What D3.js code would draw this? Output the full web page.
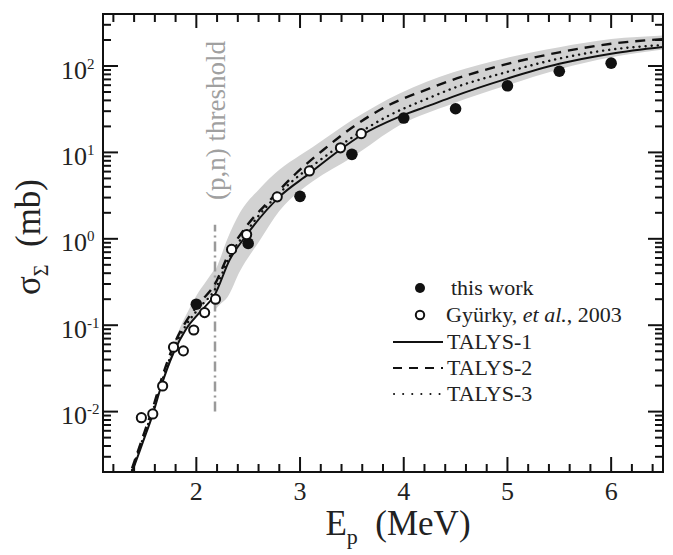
<!DOCTYPE html>
<html>
<head>
<meta charset="utf-8">
<script src="https://cdn.jsdelivr.net/npm/d3@7"></script>
<style>
  body { margin: 0; background: #fff; }
</style>
</head>
<body>
<svg id="chart" width="673" height="555"></svg>
<script>
// Measured cross sections, this work
const thisWorkE     = [2.0, 2.5, 3.0, 3.5, 4.0, 4.5, 5.0, 5.5, 6.0];
const thisWorkSigma = [0.175, 0.885, 3.1, 9.5, 25, 32, 59, 87, 108];

// Gyürky et al., 2003
const gyurkyE     = [1.47, 1.58, 1.675, 1.78, 1.875, 1.975, 2.08, 2.185, 2.34, 2.485, 2.78, 3.09, 3.39, 3.59];
const gyurkySigma = [0.0085, 0.0094, 0.0198, 0.0557, 0.0505, 0.088, 0.14, 0.2, 0.754, 1.12, 3.06, 6.1, 11.3, 16.5];

// TALYS calculations
const talys1E     = [1.38, 1.45, 1.50, 1.58, 1.66, 1.78, 1.90, 2.03, 2.18, 2.32, 2.47, 2.80, 3.09, 3.38, 3.59, 3.96, 4.25, 4.47, 4.99, 5.50, 6.00, 6.50];
const talys1Sigma = [0.002, 0.0034, 0.005, 0.0093, 0.0195, 0.048, 0.09, 0.14, 0.228, 0.567, 1.05, 3.06, 5.7, 10.6, 15.8, 26, 35, 44, 71, 106, 139, 166];

const talys2E     = [1.38, 1.50, 1.58, 1.66, 1.78, 1.90, 2.03, 2.18, 2.32, 2.48, 2.71, 2.96, 3.22, 3.51, 3.83, 4.25, 4.47, 4.99, 5.50, 6.00, 6.50];
const talys2Sigma = [0.0022, 0.0058, 0.011, 0.023, 0.058, 0.11, 0.18, 0.3, 0.7, 1.38, 2.8, 5.7, 10.6, 19.7, 34, 55, 69, 105, 144, 181, 205];

const talys3E     = [1.38, 1.50, 1.58, 1.66, 1.78, 1.90, 2.03, 2.18, 2.32, 2.48, 2.90, 3.19, 3.51, 3.83, 4.25, 4.47, 4.99, 5.50, 6.00, 6.50];
const talys3Sigma = [0.0021, 0.0055, 0.0102, 0.021, 0.053, 0.1, 0.16, 0.26, 0.62, 1.2, 4.37, 8.1, 15.1, 25.7, 43, 55, 85, 122, 155, 175];

// Uncertainty band, split at the (p,n) threshold
const bandBelowE    = [1.72, 1.80, 1.90, 2.00, 2.10, 2.18];
const bandBelowLow  = [0.03, 0.05, 0.085, 0.13, 0.19, 0.245];
const bandBelowHigh = [0.036, 0.07, 0.13, 0.22, 0.33, 0.45];

const bandAboveE    = [2.18, 2.22, 2.30, 2.42, 2.61, 2.80, 3.00, 3.12, 3.51, 3.96, 4.47, 4.99, 5.50, 6.00, 6.50];
const bandAboveLow  = [0.15, 0.17, 0.21, 0.42, 0.95, 2.1, 3.6, 4.6, 8.9, 20.6, 36.7, 59.5, 92, 126, 155];
const bandAboveHigh = [0.42, 0.55, 1.0, 2.0, 3.8, 6.3, 9.3, 11.5, 24, 48, 84, 124, 165, 205, 226];

// (p,n) threshold
const thresholdE = 2.18;
const thresholdSigma = [0.01, 1.45];

// Axis ticks
const xMajorTicks = [2, 3, 4, 5, 6];
const yMajorExponents = [-2, -1, 0, 1, 2];

// Legend entries
const legendLabels = ["this work", "Gyürky, et al., 2003", "TALYS-1", "TALYS-2", "TALYS-3"];

const FONT = "Liberation Serif";
const svg = d3.select("#chart");
const L = 103, R = 663, T = 14, B = 472;

const x = d3.scaleLinear().domain([1.1, 6.5]).range([L, R]);
const y = d3.scaleLog().domain([0.002, 400]).range([B, T]);

const zip = (a, b) => a.map((v, i) => [v, b[i]]);

// Band
const area = d3.area()
  .x(d => x(d[0])).y0(d => y(d[1])).y1(d => y(d[2]))
  .curve(d3.curveMonotoneX);
const bandFill = "#d2d2d2";
svg.append("path")
  .attr("d", area(bandBelowE.map((e, i) => [e, bandBelowLow[i], bandBelowHigh[i]])))
  .attr("fill", bandFill);
svg.append("path")
  .attr("d", area(bandAboveE.map((e, i) => [e, bandAboveLow[i], bandAboveHigh[i]])))
  .attr("fill", bandFill);

// Threshold line
svg.append("line")
  .attr("x1", x(thresholdE)).attr("x2", x(thresholdE))
  .attr("y1", y(thresholdSigma[0])).attr("y2", y(thresholdSigma[1]))
  .attr("stroke", "#9a9a9a").attr("stroke-width", 2.5)
  .attr("stroke-dasharray", "10,4,2,4");

svg.append("text")
  .attr("transform", `translate(${x(thresholdE) + 10},200) rotate(-90)`)
  .attr("font-family", FONT)
  .attr("font-size", 27)
  .attr("fill", "#a0a0a0")
  .text("(p,n) threshold");

// TALYS curves
const line = d3.line().x(d => x(d[0])).y(d => y(d[1])).curve(d3.curveMonotoneX);
svg.append("clipPath").attr("id", "plotclip")
  .append("rect").attr("x", L).attr("y", T).attr("width", R - L).attr("height", B - T);

const curves = svg.append("g").attr("clip-path", "url(#plotclip)");
curves.append("path").attr("d", line(zip(talys3E, talys3Sigma)))
  .attr("fill", "none").attr("stroke", "#111").attr("stroke-width", 2.4)
  .attr("stroke-linecap", "round").attr("stroke-dasharray", "0.1,6");
curves.append("path").attr("d", line(zip(talys2E, talys2Sigma)))
  .attr("fill", "none").attr("stroke", "#111").attr("stroke-width", 2.4)
  .attr("stroke-dasharray", "10,7");
curves.append("path").attr("d", line(zip(talys1E, talys1Sigma)))
  .attr("fill", "none").attr("stroke", "#111").attr("stroke-width", 2);

// Data points
svg.append("g").selectAll("circle").data(zip(thisWorkE, thisWorkSigma)).join("circle")
  .attr("cx", d => x(d[0])).attr("cy", d => y(d[1])).attr("r", 5.8)
  .attr("fill", "#111");
svg.append("g").selectAll("circle").data(zip(gyurkyE, gyurkySigma)).join("circle")
  .attr("cx", d => x(d[0])).attr("cy", d => y(d[1])).attr("r", 4.6)
  .attr("fill", "#fff").attr("stroke", "#111").attr("stroke-width", 2);

// Frame and ticks (inward on all four sides)
const ax = svg.append("g").attr("stroke", "#111").attr("stroke-width", 2);
ax.append("rect").attr("x", L).attr("y", T).attr("width", R - L).attr("height", B - T).attr("fill", "none");

const xMinor = d3.range(1.2, 6.45, 0.2).filter(v => Math.abs(v - Math.round(v)) > 1e-6);
xMajorTicks.forEach(v => {
  ax.append("line").attr("x1", x(v)).attr("x2", x(v)).attr("y1", B).attr("y2", B - 15);
  ax.append("line").attr("x1", x(v)).attr("x2", x(v)).attr("y1", T).attr("y2", T + 14);
});
xMinor.forEach(v => {
  ax.append("line").attr("x1", x(v)).attr("x2", x(v)).attr("y1", B).attr("y2", B - 8);
  ax.append("line").attr("x1", x(v)).attr("x2", x(v)).attr("y1", T).attr("y2", T + 8);
});

const yMinor = [];
for (let k = -3; k <= 2; k++) for (let m = 2; m <= 9; m++) {
  const v = m * Math.pow(10, k);
  if (v > 0.002 && v < 400) yMinor.push(v);
}
yMajorExponents.forEach(k => {
  const v = Math.pow(10, k);
  ax.append("line").attr("x1", L).attr("x2", L + 15).attr("y1", y(v)).attr("y2", y(v));
  ax.append("line").attr("x1", R).attr("x2", R - 15).attr("y1", y(v)).attr("y2", y(v));
});
yMinor.forEach(v => {
  ax.append("line").attr("x1", L).attr("x2", L + 8).attr("y1", y(v)).attr("y2", y(v));
  ax.append("line").attr("x1", R).attr("x2", R - 8).attr("y1", y(v)).attr("y2", y(v));
});

// Tick labels
svg.append("g").selectAll("text").data(xMajorTicks).join("text")
  .attr("x", d => x(d)).attr("y", 500).attr("text-anchor", "middle")
  .attr("font-family", FONT).attr("fill", "#222")
  .attr("font-size", 26).text(d => d);

const yl = svg.append("g").selectAll("text").data(yMajorExponents).join("text")
  .attr("x", 87).attr("y", d => y(Math.pow(10, d)) + 12.5)
  .attr("text-anchor", "end").attr("font-size", 26)
  .attr("font-family", FONT).attr("fill", "#222");
yl.text("10");
yl.append("tspan").attr("x", 87).attr("dy", -10).attr("font-size", 15)
  .attr("text-anchor", "start").text(d => String(d));

// Axis titles
const xt = svg.append("text").attr("x", 398).attr("y", 535)
  .attr("text-anchor", "middle").attr("font-size", 35)
  .attr("font-family", FONT).attr("fill", "#222");
xt.append("tspan").text("E");
xt.append("tspan").attr("font-size", 22).attr("dy", 9).text("p");
xt.append("tspan").attr("dy", -9).text("\u2002(MeV)");

const yt = svg.append("text").attr("transform", "translate(40,237) rotate(-90)")
  .attr("text-anchor", "middle").attr("font-size", 35)
  .attr("font-family", FONT).attr("fill", "#222");
yt.append("tspan").text("σ");
yt.append("tspan").attr("font-size", 20).attr("dy", 8).text("Σ");
yt.append("tspan").attr("dy", -8).text("\u2002(mb)");

// Legend
const lg = svg.append("g");
const rowY = [288, 315, 342, 368, 394];
lg.append("circle").attr("cx", 420).attr("cy", rowY[0]).attr("r", 5).attr("fill", "#111");
lg.append("circle").attr("cx", 420).attr("cy", rowY[1]).attr("r", 4.2)
  .attr("fill", "#fff").attr("stroke", "#111").attr("stroke-width", 2);
lg.append("line").attr("x1", 393).attr("x2", 443).attr("y1", rowY[2]).attr("y2", rowY[2])
  .attr("stroke", "#111").attr("stroke-width", 2);
lg.append("line").attr("x1", 393).attr("x2", 443).attr("y1", rowY[3]).attr("y2", rowY[3])
  .attr("stroke", "#111").attr("stroke-width", 2.2).attr("stroke-dasharray", "9,7");
lg.append("line").attr("x1", 394).attr("x2", 443).attr("y1", rowY[4]).attr("y2", rowY[4])
  .attr("stroke", "#111").attr("stroke-width", 2).attr("stroke-linecap", "round")
  .attr("stroke-dasharray", "0.1,9");

const textX = [451, 446, 447, 447, 447];
legendLabels.forEach((t, i) => {
  const el = lg.append("text").attr("x", textX[i]).attr("y", rowY[i] + 7)
    .attr("font-size", 22).attr("font-family", FONT).attr("fill", "#222");
  if (i === 1) {
    el.append("tspan").text("Gyürky, ");
    el.append("tspan").attr("font-style", "italic").text("et al.");
    el.append("tspan").text(", 2003");
  } else {
    el.text(t);
  }
});
</script>
</body>
</html>
